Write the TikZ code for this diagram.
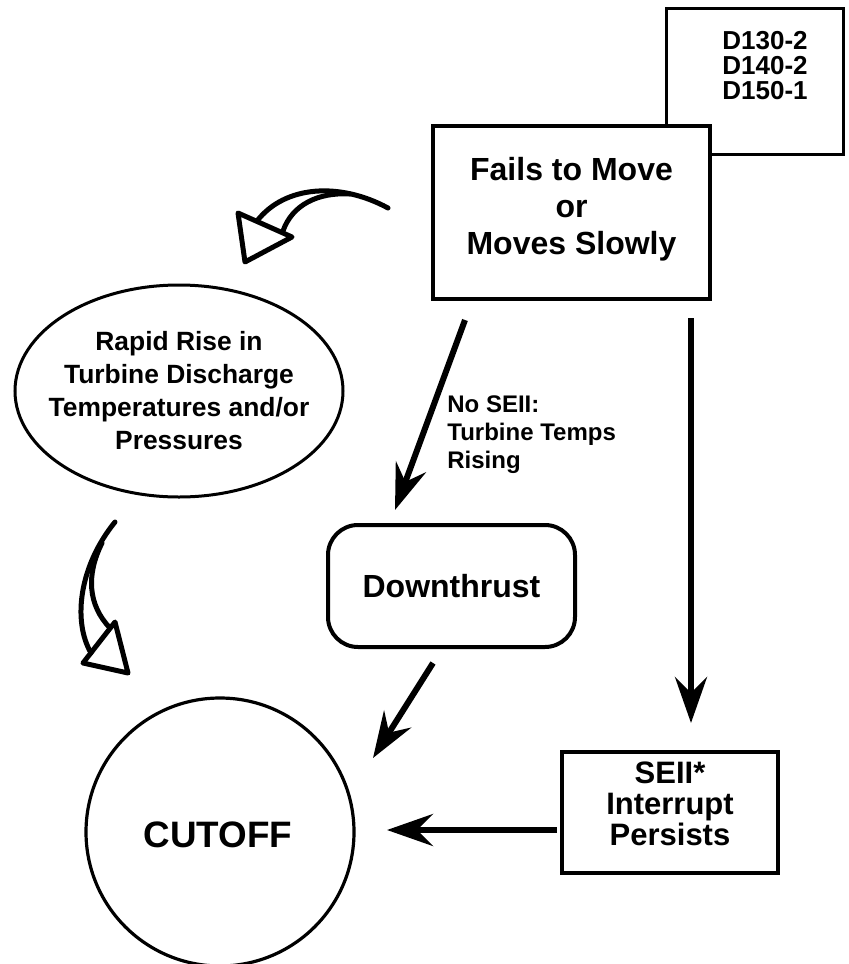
\documentclass[tikz,border=0pt]{standalone}
\usepackage{fontspec}
\setmainfont{Liberation Sans}
\usetikzlibrary{arrows.meta,shapes.geometric}
\begin{document}
\begin{tikzpicture}[x=0.5pt,y=-0.5pt,
  lbl/.style={font=\bfseries, align=center, inner sep=0pt},
  thinbox/.style={draw, line width=1.5pt, fill=white, inner sep=0pt},
  thickbox/.style={draw, line width=2.4pt, fill=white, inner sep=0pt},
  flow/.style={line width=3pt, -{Stealth[length=23pt,width=16pt,inset=8pt]}},
  hollow/.style={line width=2.5pt, line join=round, line cap=round},
]
\useasboundingbox[fill=white] (0,0) rectangle (848,964);

% reference tag, partly covered by the main box
\node[thinbox, minimum width=88.5pt, minimum height=73pt, anchor=north west] (tag) at (665,7) {};
\node[lbl, align=left, anchor=north west, font=\bfseries\fontsize{13pt}{12.4pt}\selectfont] (tagtext) at (722,31) {D130-2\\D140-2\\D150-1};

% main condition
\node[thickbox, minimum width=138.5pt, minimum height=86.5pt] (main) at (571.5,212.5) {};
\node[lbl, font=\bfseries\fontsize{16pt}{18.5pt}\selectfont] (maintext) at (571.5,209) {Fails to Move\\or\\Moves Slowly};

% symptom ellipse
\node[ellipse, draw, line width=1.5pt, minimum width=164pt, minimum height=106pt, inner sep=0pt] (rise) at (179,391) {};
\node[lbl, font=\bfseries\fontsize{13.2pt}{16.5pt}\selectfont] (risetext) at (179,391) {Rapid Rise in\\Turbine Discharge\\Temperatures and/or\\Pressures};

% downthrust
\node[draw, line width=2pt, rounded corners=15pt, minimum width=123.5pt, minimum height=61pt, inner sep=0pt,
      font=\bfseries\fontsize{16pt}{18pt}\selectfont] (down) at (451.5,586) {Downthrust};

% interrupt box
\node[thinbox, line width=1.8pt, minimum width=108pt, minimum height=60.5pt] (seii) at (670,812.5) {};
\node[lbl, font=\bfseries\fontsize{15.5pt}{15.5pt}\selectfont] (seiitext) at (670,804) {SEII*\\Interrupt\\Persists};

% cutoff
\node[circle, draw, line width=1.6pt, minimum size=134pt, inner sep=0pt] (cut) at (220,832) {};
\node[lbl, font=\bfseries\fontsize{18.4pt}{20pt}\selectfont] (cuttext) at (218,835) {CUTOFF};

% connector end points
\coordinate (a1s) at (465,320);  \coordinate (a1e) at (395,510);
\coordinate (a2s) at (691,318);  \coordinate (a2e) at (691,723);
\coordinate (a3s) at (433,663);  \coordinate (a3e) at (373,758);
\coordinate (a4s) at (557,830);  \coordinate (a4e) at (387,830);

\draw[flow] (a1s) -- (a1e);
\draw[flow] (a2s) -- (a2e);
\draw[flow] (a3s) -- (a3e);
\draw[flow] (a4s) -- (a4e);

\node[lbl, align=left, anchor=west, font=\bfseries\fontsize{12pt}{14pt}\selectfont] (nolabel) at (447,435)
  {No SEII:\\Turbine Temps\\Rising};

% hollow curved arrow: main condition leads to the rise
\coordinate (ht) at (388,208);
\draw[hollow] (ht) .. controls (340,182) and (285,185) .. (257,221);
\draw[hollow] (350,194) .. controls (318,192) and (292,205) .. (283,231);
\draw[hollow] (238,213) -- (245,262) -- (292,237) -- cycle;

% hollow curved arrow: rise leads to cutoff
\coordinate (hb) at (115,522);
\draw[hollow] (hb) .. controls (80,565) and (72,620) .. (91,653);
\draw[hollow] (102,543) .. controls (86,575) and (88,605) .. (110,628);
\draw[hollow] (83,663) -- (115,622) -- (128,673) -- cycle;
\end{tikzpicture}
\end{document}
